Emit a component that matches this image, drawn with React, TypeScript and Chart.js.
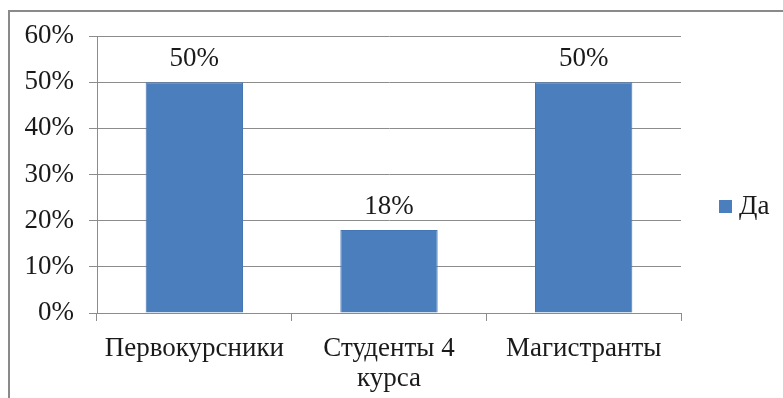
import React, { useEffect, useRef } from "react";
import { Chart, registerables } from "chart.js";

Chart.register(...registerables);

// Survey answers "Да" by group, in percent
const categories: (string | string[])[] = ["Первокурсники", ["Студенты 4", "курса"], "Магистранты"];
const seriesLabel = "Да";
const yesValues = [50, 18, 50];
const yTickMax = 60;
const yTickStep = 10;

const FONT = '"Liberation Serif", "Times New Roman", Times, serif';
const FONT_SIZE = 27;
const TEXT = "#1a1a1a";
const GRID = "#8c8c8c";
const BAR = "#4a7ebc";

Chart.defaults.font.family = FONT;

// Writes each bar's value above it
const valueLabels = {
  id: "valueLabels",
  afterDatasetsDraw(chart: any) {
    const { ctx } = chart;
    const meta = chart.getDatasetMeta(0);
    const values = chart.data.datasets[0].data as number[];
    ctx.save();
    ctx.font = `${FONT_SIZE}px ${FONT}`;
    ctx.fillStyle = TEXT;
    ctx.textAlign = "center";
    ctx.textBaseline = "middle";
    meta.data.forEach((bar: any, i: number) => {
      ctx.fillText(`${values[i]}%`, bar.x, bar.y - 23);
    });
    ctx.restore();
  },
};

// Single-entry legend drawn to the right of the plot
const sideLegend = {
  id: "sideLegend",
  afterDraw(chart: any) {
    const { ctx } = chart;
    const ds = chart.data.datasets[0];
    const x = chart.chartArea.right + 38;
    const y = 207;
    ctx.save();
    ctx.fillStyle = ds.backgroundColor as string;
    ctx.fillRect(x, y - 7, 13, 13);
    ctx.font = `${FONT_SIZE}px ${FONT}`;
    ctx.fillStyle = TEXT;
    ctx.textAlign = "left";
    ctx.textBaseline = "middle";
    ctx.fillText(ds.label, x + 20, y);
    ctx.restore();
  },
};

export default function App() {
  const canvasRef = useRef<HTMLCanvasElement | null>(null);

  useEffect(() => {
    if (!canvasRef.current) return;
    const chart = new Chart(canvasRef.current, {
      type: "bar",
      data: {
        labels: categories,
        datasets: [
          {
            label: seriesLabel,
            data: yesValues,
            backgroundColor: BAR,
            borderColor: "#4576b3",
            borderWidth: 1,
            categoryPercentage: 0.5,
            barPercentage: 1,
          },
        ],
      },
      options: {
        animation: false,
        responsive: false,
        maintainAspectRatio: false,
        layout: { padding: { top: 36, right: 102, left: 0, bottom: 0 } },
        plugins: {
          legend: { display: false },
          tooltip: { enabled: false },
        },
        scales: {
          x: {
            afterFit: (s: any) => {
              s.height = 85;
            },
            grid: {
              offset: true,
              drawOnChartArea: false,
              drawTicks: true,
              tickLength: 8,
              color: GRID,
            },
            border: { color: GRID, width: 1 },
            ticks: {
              color: TEXT,
              font: { family: FONT, size: FONT_SIZE, lineHeight: 1.1 },
              padding: 13,
              maxRotation: 0,
              autoSkip: false,
            },
          },
          y: {
            min: 0,
            max: yTickMax,
            afterFit: (s: any) => {
              s.width = 97;
            },
            grid: { color: GRID, tickLength: 8, drawTicks: true },
            border: { color: GRID, width: 1 },
            ticks: {
              stepSize: yTickStep,
              color: TEXT,
              font: { family: FONT, size: FONT_SIZE },
              padding: 15,
              callback: (v: any) => `${v}%`,
            },
          },
        },
      },
      plugins: [valueLabels, sideLegend],
    });
    return () => chart.destroy();
  }, []);

  return (
    <div style={{ position: "absolute", left: 0, top: 0, width: 783, height: 398, background: "#fff" }}>
      <canvas ref={canvasRef} width={783} height={398} style={{ display: "block" }} />
      <div
        style={{
          position: "absolute",
          left: 8,
          top: 10,
          right: 0,
          bottom: 0,
          borderLeft: "2px solid #8a8a8a",
          borderTop: "2px solid #8a8a8a",
          pointerEvents: "none",
        }}
      />
    </div>
  );
}
